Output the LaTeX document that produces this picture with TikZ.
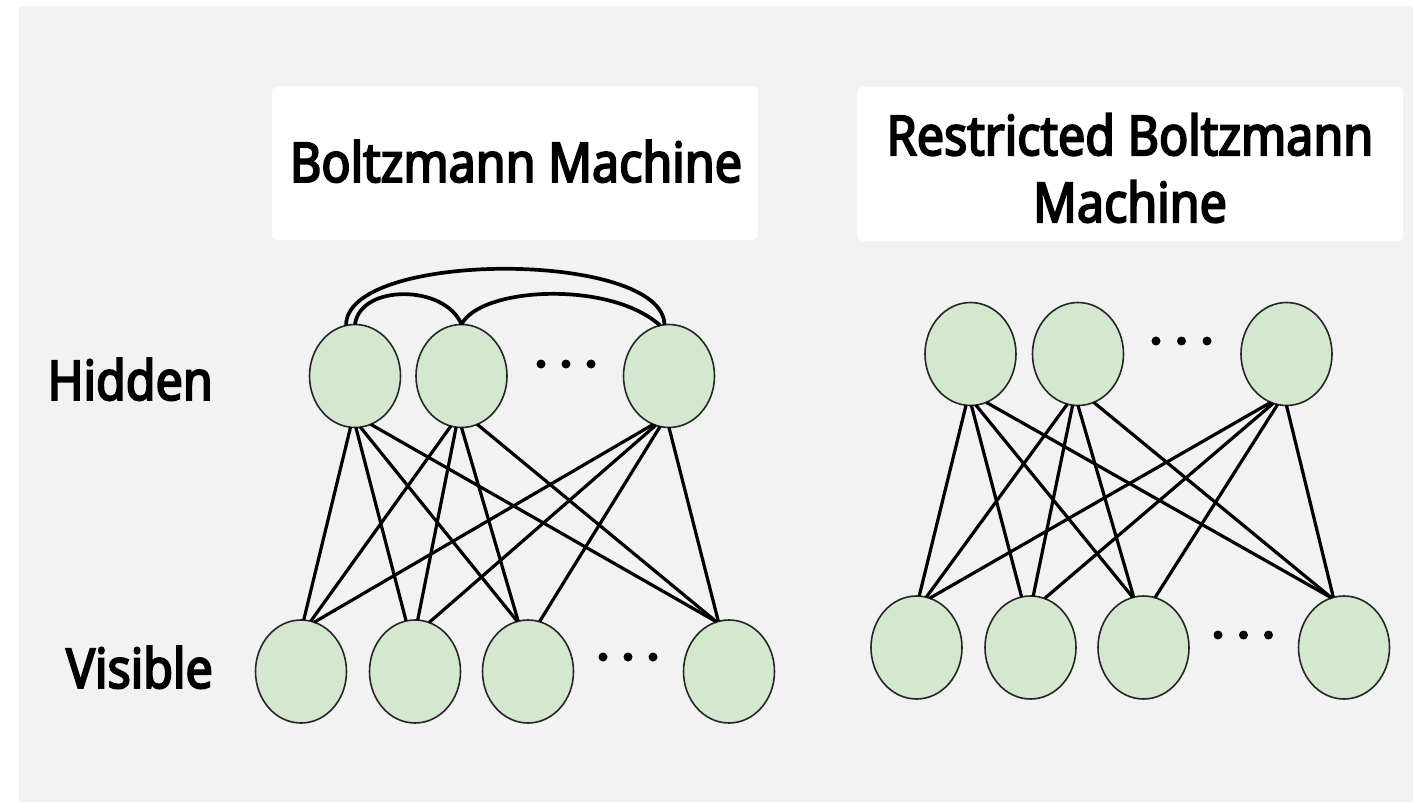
\documentclass[tikz,border=0pt]{standalone}
\usepackage{fontspec}
\setmainfont{Noto Sans}[FakeStretch=0.88, FakeBold=3.5]
\usetikzlibrary{shapes.geometric}
\definecolor{nodegreen}{HTML}{D3E8CF}
\definecolor{bggray}{HTML}{F2F2F2}
\begin{document}
\begin{tikzpicture}[x=1pt,y=-1pt,
  unit/.style={ellipse, draw=black!85, line width=1.6pt, fill=nodegreen,
    minimum width=91pt, minimum height=103pt, inner sep=0pt, outer sep=0pt},
  link/.style={line width=3.2pt, black},
  arcline/.style={line width=3.7pt, black},
  lbl/.style={font=\fontsize{55}{67}\selectfont, inner sep=0pt, text=black},
  titlebox/.style={fill=white, rounded corners=6pt},
  dot/.style={circle, fill=black, inner sep=0pt, minimum size=9pt}
]
\useasboundingbox (0,0) rectangle (1413,802);
\fill[white] (0,0) rectangle (1413,802);
\fill[bggray] (19,6) rectangle (1413,802);

% title boxes
\fill[titlebox] (272,86) rectangle (758,240);
\fill[titlebox] (857,87) rectangle (1403,241);
\node[lbl, anchor=base] (t1) at (516,182) {Boltzmann Machine};
\node[lbl, align=center] (t2) at (1130,168) {Restricted Boltzmann\\Machine};

% row labels
\node[lbl, anchor=base east] (lh) at (213,400) {Hidden};
\node[lbl, anchor=base east] (lv) at (213,688) {Visible};

% Boltzmann machine nodes
\foreach \n/\x in {1/355, 2/461.5, 3/669}
  \node[unit] (bh\n) at (\x,376) {};
\foreach \n/\x in {1/301, 2/415, 3/528, 4/729}
  \node[unit] (bv\n) at (\x,671.5) {};
% RBM nodes
\foreach \n/\x in {1/970.5, 2/1078, 3/1286.5}
  \node[unit] (rh\n) at (\x,354) {};
\foreach \n/\x in {1/916.5, 2/1030.5, 3/1143.5, 4/1344}
  \node[unit] (rv\n) at (\x,647.5) {};

% ellipsis dots
\foreach \n/\x in {1/541, 2/566, 3/591}
  \node[dot] (bhd\n) at (\x,364) {};
\foreach \n/\x in {1/603, 2/628, 3/653}
  \node[dot] (bvd\n) at (\x,657) {};
\foreach \n/\x in {1/1156, 2/1181.5, 3/1207}
  \node[dot] (rhd\n) at (\x,341) {};
\foreach \n/\x in {1/1218, 2/1243.5, 3/1268.5}
  \node[dot] (rvd\n) at (\x,635) {};

% bipartite links
\foreach \i/\j/\a/\b in {1/1/-95/87, 1/2/-89/100, 1/3/-84/102, 1/4/-72/104,
                        2/1/-102/79, 2/2/-96/87, 2/3/-90/101, 2/4/-72/104,
                        3/1/-108/75, 3/2/-105/74, 3/3/-100/77, 3/4/-90/102} {
  \draw[link] (bh\i.\a) -- (bv\j.\b);
  \draw[link] (rh\i.\a) -- (rv\j.\b);
}

% lateral connections among hidden units (Boltzmann machine)
\draw[arcline] (bh1.100) .. controls (345,250) and (663,250) .. (bh3.95);
\draw[arcline] (bh1.90) .. controls (360,284) and (445,284) .. (bh2.90);
\draw[arcline] (bh2.90) .. controls (480,287) and (610,280) .. (bh3.100);
\end{tikzpicture}
\end{document}
